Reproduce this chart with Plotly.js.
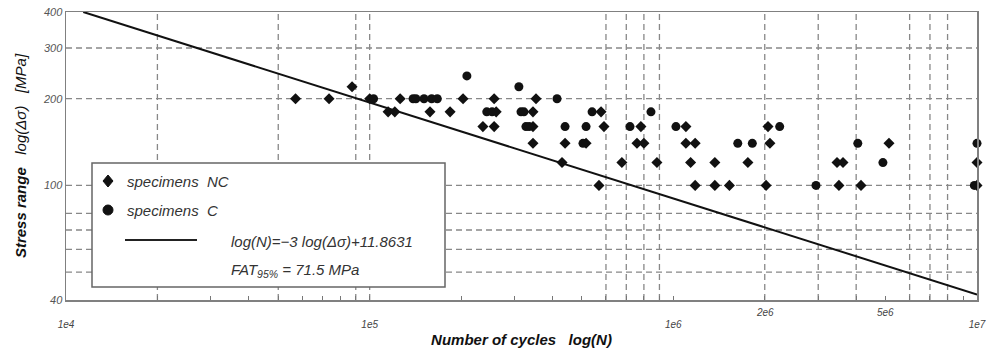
<!DOCTYPE html>
<html>
<head>
<meta charset="utf-8">
<script src="https://cdn.plot.ly/plotly-3.0.1.min.js"></script>
<style>html,body{margin:0;padding:0;background:#fff;}#chart{width:986px;height:356px;}</style>
</head>
<body>
<div id="chart"></div>
<script>
// ---------- data ----------
// specimens NC (diamonds)
const ncCycles = [5.7e4, 7.35e4, 8.75e4, 1.0e5, 1.26e5, 2.03e5, 2.57e5, 3.53e5,
  1.15e5, 1.21e5, 1.58e5, 1.84e5, 2.61e5, 3.45e5, 5.78e5,
  2.36e5, 2.57e5, 3.45e5, 5.91e5, 7.82e5, 1.10e6, 2.05e6,
  3.45e5, 4.40e5, 5.16e5, 7.59e5, 8.0e5, 1.10e6, 1.18e6, 2.08e6, 5.13e6,
  4.30e5, 6.77e5, 8.83e5, 1.14e6, 1.37e6, 1.76e6, 3.46e6, 3.62e6, 1.0e7,
  5.69e5, 1.18e6, 1.37e6, 1.53e6, 2.02e6, 3.51e6, 4.15e6, 1.0e7];
const ncStress = [200, 200, 220, 200, 200, 200, 200, 200,
  180, 180, 180, 180, 180, 180, 180,
  160, 160, 160, 160, 160, 160, 160,
  140, 140, 140, 140, 140, 140, 140, 140, 140,
  120, 120, 120, 120, 120, 120, 120, 120, 120,
  100, 100, 100, 100, 100, 100, 100, 100];
// specimens C (circles)
const cCycles = [1.03e5, 1.39e5, 1.42e5, 1.51e5, 1.60e5, 1.67e5, 4.14e5,
  2.09e5, 3.10e5,
  2.43e5, 2.53e5, 3.15e5, 3.22e5, 5.40e5, 8.44e5,
  3.27e5, 3.35e5, 4.40e5, 5.16e5, 7.20e5, 1.02e6, 2.24e6,
  5.04e5, 1.63e6, 1.82e6, 4.05e6, 1.0e7,
  4.9e6,
  2.95e6, 9.8e6];
const cStress = [200, 200, 200, 200, 200, 200, 200,
  240, 220,
  180, 180, 180, 180, 180, 180,
  160, 160, 160, 160, 160, 160, 160,
  140, 140, 140, 140, 140,
  120,
  100, 100];
// design S-N line log(N) = -3 log(Δσ) + 11.8631 (end points)
const fatCycles = [1.14e4, 1.0e7];
const fatStress = [400, 41.8];

// axes
const yTickVals = [40, 100, 200, 300, 400];
const yTickText = ['40', '100', '200', '300', '400'];
const xLabelVals = [1e4, 1e5, 1e6, 1e7];
const xLabelText = ['1e4', '1e5', '1e6', '1e7'];
const xRaisedVals = [2e6, 5e6];
const xRaisedText = ['2e6', '5e6'];
const xGridVals = [2e4, 5e4, 9e4, 1e5, 6e5, 7e5, 8e5, 9e5, 2e6, 3e6, 4e6, 6e6, 7e6, 8e6];
const yGridVals = [50, 60, 70, 80, 100, 200, 300];

// legend texts
const legendTexts = ['specimens\u00a0\u00a0NC', 'specimens\u00a0\u00a0C',
  'log(N)=\u22123 log(\u0394\u03c3)+11.8631', 'FAT<sub>95%</sub> = 71.5 MPa'];

// ---------- layout helpers ----------
const L = 66, R = 977, T = 12, B = 300;
const px2x = p => (p - L) / (R - L);
const py2y = p => (B - p) / (B - T);

const xMinor = [];
for (let d = 4; d < 7; d++) for (let m = 1; m < 10; m++) xMinor.push(m * Math.pow(10, d));
xMinor.push(1e7);
const xTickText = xMinor.map(v => { const i = xLabelVals.indexOf(v); return i >= 0 ? xLabelText[i] : ' '; });

const gridLine = {color: '#888', width: 1.3, dash: '6px,4px'};
const shapes = [];
xGridVals.forEach(v => shapes.push({type: 'line', xref: 'x', yref: 'paper', x0: v, x1: v, y0: 0, y1: 1, line: gridLine, layer: 'below'}));
yGridVals.forEach(v => shapes.push({type: 'line', xref: 'paper', yref: 'y', x0: 0, x1: 1, y0: v, y1: v, line: gridLine, layer: 'below'}));
// legend box
shapes.push({type: 'rect', xref: 'paper', yref: 'paper', x0: px2x(92), x1: px2x(445), y0: py2y(287), y1: py2y(163),
  fillcolor: '#ffffff', line: {color: '#666', width: 1.5}, layer: 'below'});
// legend symbols
const dx = 5 / (R - L), dy = 6 / (B - T);
const dcx = px2x(108), dcy = py2y(181);
shapes.push({type: 'path', xref: 'paper', yref: 'paper',
  path: `M ${dcx - dx} ${dcy} L ${dcx} ${dcy + dy} L ${dcx + dx} ${dcy} L ${dcx} ${dcy - dy} Z`,
  fillcolor: '#111', line: {color: '#111', width: 1}});
shapes.push({type: 'circle', xref: 'paper', yref: 'paper', x0: px2x(103), x1: px2x(113), y0: py2y(215), y1: py2y(205),
  fillcolor: '#111', line: {color: '#111', width: 1}});
shapes.push({type: 'line', xref: 'paper', yref: 'paper', x0: px2x(125), x1: px2x(197), y0: py2y(240), y1: py2y(240),
  line: {color: '#222', width: 1.8}});

const legFont = {family: 'Liberation Sans, Arial, sans-serif', size: 15, color: '#333', style: 'italic'};
const annotations = [
  {x: px2x(125), y: py2y(181), text: legendTexts[0]},
  {x: px2x(125), y: py2y(210), text: legendTexts[1]},
  {x: px2x(229), y: py2y(241), text: legendTexts[2]},
  {x: px2x(229), y: py2y(270), text: legendTexts[3]}
].map(a => Object.assign({xref: 'paper', yref: 'paper', xanchor: 'left', yanchor: 'middle', showarrow: false, font: legFont}, a));
xRaisedVals.forEach((v, i) => annotations.push({
  x: Math.log10(v), xref: 'x', y: 0, yref: 'paper', yanchor: 'middle', yshift: -12,
  text: xRaisedText[i], showarrow: false,
  font: {family: 'Liberation Sans Narrow, Liberation Sans, sans-serif', size: 10, color: '#444', style: 'italic'}
}));

const tickFont = {family: 'Liberation Sans Narrow, Liberation Sans, sans-serif', size: 11, color: '#555', style: 'italic'};
const titleFont = {family: 'Liberation Sans Narrow, Liberation Sans, sans-serif', size: 15, color: '#111', style: 'italic'};

const traces = [
  {x: fatCycles, y: fatStress, type: 'scatter', mode: 'lines', line: {color: '#111', width: 2}, showlegend: false, hoverinfo: 'skip'},
  {x: ncCycles, y: ncStress, type: 'scatter', mode: 'markers', name: 'specimens NC', cliponaxis: false,
   marker: {symbol: 'diamond', size: 8.5, color: '#111'}, showlegend: false},
  {x: cCycles, y: cStress, type: 'scatter', mode: 'markers', name: 'specimens C', cliponaxis: false,
   marker: {symbol: 'circle', size: 9, color: '#111'}, showlegend: false}
];

const layout = {
  width: 986, height: 356,
  margin: {l: L, r: 986 - R, t: T, b: 356 - B},
  paper_bgcolor: '#fff', plot_bgcolor: '#fff',
  showlegend: false,
  xaxis: {
    type: 'log', range: [4, 7], autorange: false,
    tickmode: 'array', tickvals: xMinor, ticktext: xTickText,
    ticks: 'inside', ticklen: 4, tickwidth: 1, tickcolor: '#777',
    ticklabelstandoff: 14,
    tickfont: {family: 'Liberation Sans Narrow, Liberation Sans, sans-serif', size: 10, color: '#444', style: 'italic'},
    showgrid: false, zeroline: false,
    showline: true, mirror: true, linecolor: '#808080', linewidth: 1.5,
    title: {text: '<b>Number of cycles\u00a0\u00a0\u00a0log(N)</b>', font: titleFont, standoff: 6},
    automargin: false
  },
  yaxis: {
    type: 'log', range: [Math.log10(40), Math.log10(400)], autorange: false,
    tickmode: 'array', tickvals: yTickVals, ticktext: yTickText,
    ticks: '', tickfont: tickFont,
    showgrid: false, zeroline: false,
    showline: true, mirror: true, linecolor: '#808080', linewidth: 1.5,
    title: {text: '<b>Stress range</b>\u00a0\u00a0\u00a0log(\u0394\u03c3)\u00a0\u00a0\u00a0[MPa]', font: titleFont, standoff: 12},
    automargin: false
  },
  shapes: shapes,
  annotations: annotations
};

Plotly.newPlot('chart', traces, layout, {displayModeBar: false, staticPlot: true});
</script>
</body>
</html>
